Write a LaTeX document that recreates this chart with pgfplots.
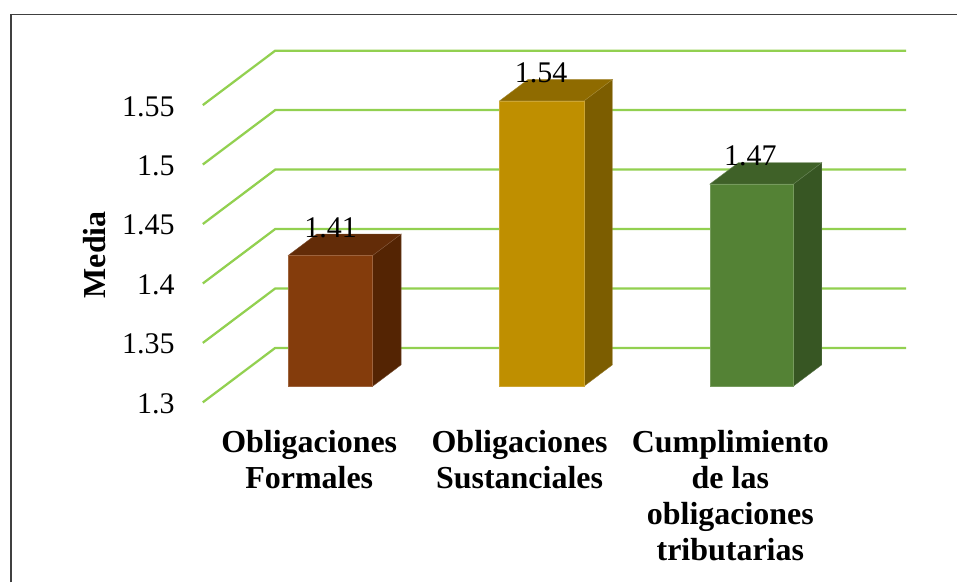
\documentclass[border=0pt]{standalone}
\usepackage{pgfplots}
\pgfplotsset{compat=1.18}
\usepackage{fontspec}
\setmainfont{Liberation Serif}
\definecolor{gridg}{HTML}{92D050}
\definecolor{frameg}{HTML}{404040}
\definecolor{brF}{HTML}{843C0C}\definecolor{brS}{HTML}{542403}\definecolor{brT}{HTML}{632C08}
\definecolor{goF}{HTML}{BF8F00}\definecolor{goS}{HTML}{7C5D00}\definecolor{goT}{HTML}{8F6B00}
\definecolor{grF}{HTML}{548235}\definecolor{grS}{HTML}{375623}\definecolor{grT}{HTML}{3F6128}
\begin{document}
\begin{tikzpicture}[x=1pt,y=1pt]
\begin{axis}[
  scale only axis, width=528pt, height=302.025pt,
  xmin=203, xmax=907, ymin=1.3, ymax=1.6384,
  clip=false,
  axis line style={draw=none},
  tick style={draw=none},
  ytick={1.3,1.35,1.4,1.45,1.5,1.55},
  yticklabels={1.3,1.35,1.4,1.45,1.5,1.55},
  xtick={309.5,520,731},
  xticklabels={{Obligaciones\\Formales},{Obligaciones\\Sustanciales},{Cumplimiento\\de las\\obligaciones\\tributarias}},
  x tick label style={font=\fontsize{24}{27}\selectfont\bfseries, align=center, anchor=north, inner sep=0pt},
  y tick label style={font=\fontsize{22.5}{26}\selectfont, anchor=east, inner sep=0pt},
  /pgf/number format/assume math mode=true,
  xtick pos=bottom, ytick pos=left,
  xticklabel shift=0pt,
  xtick align=outside,
  major tick length=0pt,
  typeset ticklabels with strut,
  x tick label style={yshift=-18.4pt},
  y tick label style={xshift=-21pt, yshift=-3pt},
  ylabel={Media},
  every axis y label/.style={at={(axis description cs:-0.1534,0.367)}, rotate=90, anchor=center, font=\fontsize{24}{27}\selectfont\bfseries},
]
% page extent and frame
\addplot[draw=none, forget plot] coordinates {(0,1.14849) (958,1.6384)};
\addplot[draw=frameg, line width=1.3pt, forget plot] coordinates {(11,1.14849) (11,1.6262) (958,1.6262)};
% wall grid
\addplot[draw=gridg, line width=1.7pt, forget plot] coordinates {(203,1.30) (275.5,1.3458) (907,1.3458)};
\addplot[draw=gridg, line width=1.7pt, forget plot] coordinates {(203,1.35) (275.5,1.3958) (907,1.3958)};
\addplot[draw=gridg, line width=1.7pt, forget plot] coordinates {(203,1.40) (275.5,1.4458) (907,1.4458)};
\addplot[draw=gridg, line width=1.7pt, forget plot] coordinates {(203,1.45) (275.5,1.4958) (907,1.4958)};
\addplot[draw=gridg, line width=1.7pt, forget plot] coordinates {(203,1.50) (275.5,1.5458) (907,1.5458)};
\addplot[draw=gridg, line width=1.7pt, forget plot] coordinates {(203,1.55) (275.5,1.5958) (907,1.5958)};
% bar 1.41
\addplot[fill=brS, draw=brS!80!white, line width=.3pt, yshift=12.1pt] coordinates {(373,1.3) (401.5,1.318) (401.5,1.428) (373,1.41)} -- cycle;
\addplot[fill=brT, draw=brT!80!white, line width=.3pt, yshift=12.1pt] coordinates {(288.5,1.41) (317,1.428) (401.5,1.428) (373,1.41)} -- cycle;
\addplot[fill=brF, draw=brF!80!white, line width=.3pt, yshift=12.1pt] coordinates {(288.5,1.3) (288.5,1.41) (373,1.41) (373,1.3)} -- cycle;
% bar 1.54
\addplot[fill=goS, draw=goS!80!white, line width=.3pt, yshift=12.1pt] coordinates {(584.5,1.3) (613,1.318) (613,1.558) (584.5,1.54)} -- cycle;
\addplot[fill=goT, draw=goT!80!white, line width=.3pt, yshift=12.1pt] coordinates {(500,1.54) (528.5,1.558) (613,1.558) (584.5,1.54)} -- cycle;
\addplot[fill=goF, draw=goF!80!white, line width=.3pt, yshift=12.1pt] coordinates {(500,1.3) (500,1.54) (584.5,1.54) (584.5,1.3)} -- cycle;
% bar 1.47
\addplot[fill=grS, draw=grS!80!white, line width=.3pt, yshift=12.1pt] coordinates {(794,1.3) (822.5,1.318) (822.5,1.488) (794,1.47)} -- cycle;
\addplot[fill=grT, draw=grT!80!white, line width=.3pt, yshift=12.1pt] coordinates {(710.5,1.47) (739,1.488) (822.5,1.488) (794,1.47)} -- cycle;
\addplot[fill=grF, draw=grF!80!white, line width=.3pt, yshift=12.1pt] coordinates {(710.5,1.3) (710.5,1.47) (794,1.47) (794,1.3)} -- cycle;
% value labels
\addplot[draw=none, mark=none, nodes near coords, point meta=y,
  nodes near coords style={font=\fontsize{22.5}{26}\selectfont, anchor=center, yshift=33pt, inner sep=0pt,
    /pgf/number format/fixed, /pgf/number format/precision=2, /pgf/number format/assume math mode=true}]
  coordinates {(331,1.41) (541.5,1.54) (751,1.47)};
\end{axis}
\end{tikzpicture}
\end{document}
